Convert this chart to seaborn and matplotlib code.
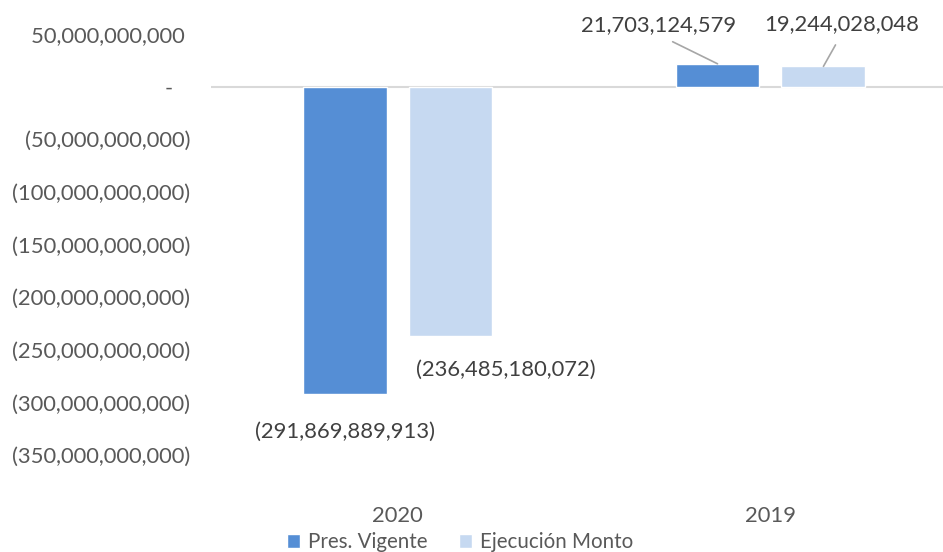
import matplotlib
matplotlib.use("Agg")
import matplotlib.pyplot as plt
import seaborn as sns
import pandas as pd

# ── Data ─────────────────────────────────────────────────────────────────────
years = ["2020", "2019"]
series = ["Pres. Vigente", "Ejecución Monto"]
pres_vigente = [-291869889913, 21703124579]
ejecucion_monto = [-236485180072, 19244028048]
y_ticks = [50e9, 0, -50e9, -100e9, -150e9, -200e9, -250e9, -300e9, -350e9]

colors = ["#558ED5", "#C6D9F1"]
TEXT = "#595959"
FS = 15.8

sns.set_theme(style="white")
plt.rcParams["font.family"] = ["Lato", "DejaVu Sans"]

df = pd.DataFrame({
    "year": years * 2,
    "serie": [series[0]] * 2 + [series[1]] * 2,
    "value": pres_vigente + ejecucion_monto,
})

fig = plt.figure(figsize=(9.43, 5.52), dpi=100)
ax = fig.add_axes([0.2238, 0.1757, 0.791, 0.7627])

sns.barplot(data=df, x="year", y="value", hue="serie", order=years,
            hue_order=series, palette=colors, width=0.568, gap=0.208,
            saturation=1, ax=ax)

ax.set_ylim(-350e9, 50e9)
ax.set_xlim(-0.5, 1.5)
ax.axhline(0, color="#D9D9D9", lw=1.5, zorder=0)
for s in ax.spines.values():
    s.set_visible(False)


def acct(v):
    if v == 0:
        return "-   "
    if v < 0:
        return f"({abs(v):,.0f})"
    return f"{v:,.0f} "


ax.set_yticks(y_ticks)
ax.set_yticklabels([acct(v) for v in y_ticks])
ax.tick_params(axis="y", length=0, pad=15, labelsize=FS, labelcolor=TEXT)
ax.tick_params(axis="x", length=0, pad=37, labelsize=FS, labelcolor=TEXT)
ax.set_xlabel("")
ax.set_ylabel("")

# data labels (offsets in pixels, like Excel's moved labels)
offsets = [[(0, -38), (-59, 39)], [(55, -34), (18, 42)]]
for ci, cont in enumerate(ax.containers):
    for bi, bar in enumerate(cont):
        x = bar.get_x() + bar.get_width() / 2
        val = pres_vigente[bi] if ci == 0 else ejecucion_monto[bi]
        dx, dy = offsets[ci][bi]
        kw = {}
        if val > 0:
            kw["arrowprops"] = dict(arrowstyle="-", color="#A6A6A6", lw=1.2,
                                    relpos=(0.5, 0), shrinkA=6, shrinkB=0)
        ax.annotate(acct(val).strip(), xy=(x, val), xytext=(dx * 0.72, dy * 0.72),
                    textcoords="offset points", ha="center", va="center",
                    fontsize=FS, color="#404040", **kw)

sns.move_legend(ax, "center", bbox_to_anchor=(0.488, 0.018),
                bbox_transform=fig.transFigure, ncol=2, frameon=False,
                title=None, fontsize=14.8, handlelength=0.65, handleheight=0.65,
                handletextpad=0.4, columnspacing=1.5, labelcolor=TEXT)

fig.savefig("out.png", dpi=100)
